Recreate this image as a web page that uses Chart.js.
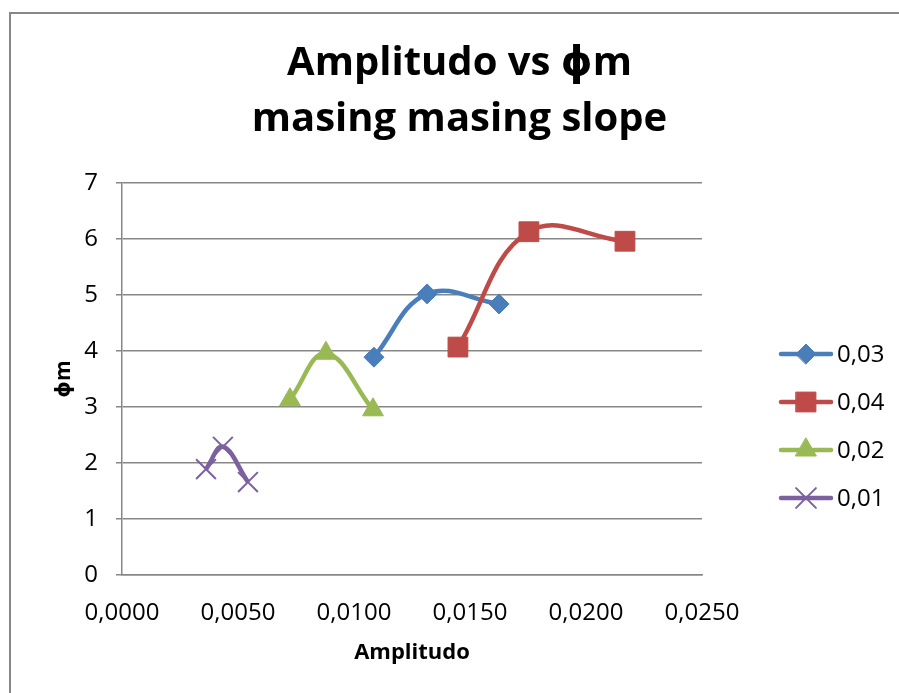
<!DOCTYPE html>
<html>
<head>
<meta charset="utf-8">
<script src="https://cdn.jsdelivr.net/npm/chart.js@4.4.1/dist/chart.umd.min.js"></script>
<style>
  html, body { margin: 0; padding: 0; background: #fff; }
</style>
</head>
<body>
<canvas id="myChart" width="899" height="693"></canvas>
<script>
// slope series, amplitude (x) vs phi m (y)
const seriesNames = ['0,03', '0,04', '0,02', '0,01']
const amp003 = [0.01086, 0.01315, 0.01625]
const phi003 = [3.89, 5.02, 4.84]
const amp004 = [0.01448, 0.01754, 0.02168]
const phi004 = [4.07, 6.13, 5.96]
const amp002 = [0.00724, 0.00879, 0.01082]
const phi002 = [3.13, 3.96, 2.95]
const amp001 = [0.00362, 0.00435, 0.00543]
const phi001 = [1.89, 2.29, 1.66]
const xTickLabels = ['0,0000', '0,0050', '0,0100', '0,0150', '0,0200', '0,0250']
const yTickLabels = ['0', '1', '2', '3', '4', '5', '6', '7']

const FONT = "'Open Sans', 'DejaVu Sans', sans-serif"
const GRID = '#878787'

const toPoints = (xs, ys) => xs.map((x, i) => ({x: x, y: ys[i]}))

const styles = [
    {color: '#4A7EBB', pointStyle: 'rectRot', radius: 10},
    {color: '#BE4B48', pointStyle: 'rect', radius: 14},
    {color: '#98B954', pointStyle: 'triangle', radius: 12},
    {color: '#7D60A0', pointStyle: 'crossRot', radius: 14}
]
const values = [
    toPoints(amp003, phi003),
    toPoints(amp004, phi004),
    toPoints(amp002, phi002),
    toPoints(amp001, phi001)
]

const datasets = values.map((pts, i) => ({
    label: seriesNames[i],
    data: pts,
    showLine: true,
    tension: 0.4,
    borderColor: styles[i].color,
    backgroundColor: styles[i].color,
    borderWidth: 4.5,
    pointStyle: styles[i].pointStyle,
    pointRadius: styles[i].radius,
    pointHoverRadius: styles[i].radius,
    pointBorderWidth: styles[i].pointStyle === 'crossRot' ? 2 : 1,
    // later series sit on top
    order: values.length - i
}))

// outer frame of the chart object
const frame = {
    id: 'frame',
    afterDraw(chart) {
        const ctx = chart.ctx
        ctx.save()
        ctx.strokeStyle = GRID
        ctx.lineWidth = 2
        ctx.strokeRect(10, 13, 960, 760)
        ctx.restore()
    }
}

// legend: line with marker, then the name
const sideLegend = {
    id: 'sideLegend',
    afterDraw(chart) {
        const ctx = chart.ctx
        ctx.save()
        chart.data.datasets.forEach((ds, i) => {
            const y = 354 + i * 48
            ctx.strokeStyle = ds.borderColor
            ctx.fillStyle = ds.backgroundColor
            ctx.lineWidth = 4.5
            ctx.lineCap = 'round'
            ctx.beginPath()
            ctx.moveTo(781, y)
            ctx.lineTo(831, y)
            ctx.stroke()
            ctx.lineWidth = ds.pointBorderWidth
            Chart.helpers.drawPoint(ctx, {
                pointStyle: ds.pointStyle,
                radius: ds.pointRadius,
                rotation: 0,
                borderWidth: ds.pointBorderWidth
            }, 806, y)
            ctx.fillStyle = '#000'
            ctx.font = '24px ' + FONT
            ctx.textBaseline = 'middle'
            ctx.textAlign = 'left'
            ctx.fillText(ds.label, 837, y + 1)
        })
        ctx.restore()
    }
}

const options = {
    responsive: false,
    animation: false,
    layout: {padding: {left: 20, top: 0, right: 0, bottom: 0}},
    scales: {
        x: {
            type: 'linear',
            min: 0,
            max: 0.025,
            afterFit: s => { s.height = 118 },
            afterBuildTicks: s => {
                s.ticks = xTickLabels.map((t, i) => ({value: i * 0.005}))
            },
            ticks: {
                callback: (v, i) => xTickLabels[i],
                color: '#000',
                font: {family: FONT, size: 24},
                padding: 16,
                maxRotation: 0
            },
            grid: {display: false},
            border: {display: true, color: GRID, width: 1.5},
            title: {
                display: true,
                text: 'Amplitudo',
                color: '#000',
                font: {family: FONT, size: 22, weight: 'bold'},
                padding: {top: 0, bottom: 27}
            }
        },
        y: {
            min: 0,
            max: 7,
            afterFit: s => { s.width = 102 },
            ticks: {
                stepSize: 1,
                callback: (v, i) => yTickLabels[i],
                color: '#000',
                font: {family: FONT, size: 24},
                padding: 18
            },
            grid: {color: GRID, lineWidth: 1.5, tickLength: 6},
            border: {display: true, color: GRID, width: 1.5},
            title: {
                display: true,
                text: 'ϕm',
                color: '#000',
                font: {family: FONT, size: 21, weight: 'bold'},
                padding: {top: 31, bottom: 0}
            }
        },
        // empty right-hand strip that holds the legend
        side: {
            position: 'right',
            min: 0,
            max: 7,
            afterFit: s => { s.width = 197 },
            ticks: {display: false},
            grid: {display: false},
            border: {display: false}
        }
    },
    plugins: {
        legend: {display: false},
        tooltip: {enabled: false},
        title: {
            display: true,
            text: ['Amplitudo vs ϕm', 'masing masing slope'],
            color: '#000',
            font: {family: FONT, size: 40, weight: 'bold', lineHeight: 1.4},
            padding: {top: 36, bottom: 35}
        }
    }
}

const myChart = new Chart(document.getElementById('myChart'), {
    type: 'scatter',
    data: {datasets},
    options,
    plugins: [frame, sideLegend]
})
</script>
</body>
</html>
